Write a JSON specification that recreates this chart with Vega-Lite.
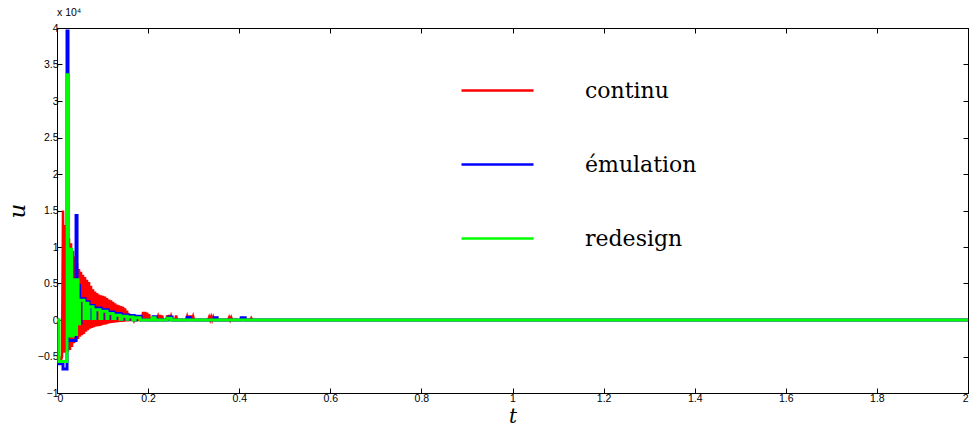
{
"$schema": "https://vega.github.io/schema/vega-lite/v6.json",
"width": 911, "height": 365,
"autosize": {"type": "none"},
"padding": {"left": 57, "top": 28, "right": 1, "bottom": 38},
"background": "white",
"title": {"text": "x 10⁴", "anchor": "start", "frame": "group", "fontSize": 10.5, "font": "Liberation Sans", "fontWeight": "normal", "offset": 5, "color": "#000"},
"datasets": {
"continu": [
{"t":0,"u":-3000},{"t":0.0044,"u":-5000},{"t":0.0088,"u":-5500},{"t":0.0110,"u":-5000},{"t":0.0132,"u":15000},{"t":0.0154,"u":-4500},{"t":0.0176,"u":13000},{"t":0.0198,"u":-4400},{"t":0.0220,"u":12200},{"t":0.0242,"u":-4300},{"t":0.0264,"u":11200},{"t":0.0286,"u":-4100},{"t":0.0308,"u":10500},{"t":0.0330,"u":-3700},{"t":0.0352,"u":9500},{"t":0.0374,"u":-3200},{"t":0.0396,"u":8700},{"t":0.0418,"u":-2800},{"t":0.0440,"u":7800},{"t":0.0462,"u":-2600},{"t":0.0484,"u":7000},{"t":0.0505,"u":-2300},{"t":0.0527,"u":6600},{"t":0.0549,"u":-2100},{"t":0.0571,"u":6200},{"t":0.0593,"u":-1900},{"t":0.0615,"u":5900},{"t":0.0637,"u":-1600},{"t":0.0659,"u":5500},{"t":0.0681,"u":-1400},{"t":0.0703,"u":5200},{"t":0.0725,"u":-1200},{"t":0.0747,"u":4700},{"t":0.0769,"u":-1100},{"t":0.0791,"u":4200},{"t":0.0813,"u":-1000},{"t":0.0835,"u":3900},{"t":0.0857,"u":-900},{"t":0.0879,"u":3700},{"t":0.0901,"u":-850},{"t":0.0923,"u":3500},{"t":0.0945,"u":-800},{"t":0.0967,"u":3400},{"t":0.0989,"u":-700},{"t":0.1011,"u":3300},{"t":0.1033,"u":-650},{"t":0.1055,"u":3200},{"t":0.1077,"u":-600},{"t":0.1099,"u":3000},{"t":0.1121,"u":-500},{"t":0.1143,"u":2800},{"t":0.1165,"u":-450},{"t":0.1187,"u":2700},{"t":0.1209,"u":-400},{"t":0.1231,"u":2500},{"t":0.1253,"u":-370},{"t":0.1275,"u":2300},{"t":0.1297,"u":-340},{"t":0.1319,"u":2100},{"t":0.1341,"u":-300},{"t":0.1363,"u":2000},{"t":0.1385,"u":-280},{"t":0.1407,"u":1900},{"t":0.1429,"u":-250},{"t":0.1451,"u":1800},{"t":0.1473,"u":-220},{"t":0.1495,"u":1600},{"t":0.1516,"u":-200},{"t":0.1538,"u":1300},{"t":0.1560,"u":-170},{"t":0.1582,"u":900},{"t":0.1604,"u":-140},{"t":0.1626,"u":600},{"t":0.1648,"u":-120},{"t":0.1670,"u":300},{"t":0.1692,"u":-100},{"t":0.1714,"u":200},{"t":0.1736,"u":0},
{"t":0.1824,"u":0},{"t":0.1846,"u":600},{"t":0.1868,"u":0},{"t":0.1890,"u":1100},{"t":0.1912,"u":0},{"t":0.1934,"u":1100},{"t":0.1956,"u":0},{"t":0.1978,"u":1000},{"t":0.2000,"u":0},{"t":0.2022,"u":800},{"t":0.2044,"u":0},
{"t":0.2198,"u":0},{"t":0.2220,"u":500},{"t":0.2242,"u":0},{"t":0.2264,"u":700},{"t":0.2286,"u":0},{"t":0.2308,"u":600},{"t":0.2330,"u":0},
{"t":0.2396,"u":0},{"t":0.2418,"u":600},{"t":0.2440,"u":0},{"t":0.2462,"u":700},{"t":0.2484,"u":0},{"t":0.2505,"u":500},{"t":0.2527,"u":0},
{"t":0.2593,"u":0},{"t":0.2615,"u":600},{"t":0.2637,"u":0},
{"t":0.2835,"u":0},{"t":0.2857,"u":500},{"t":0.2879,"u":0},{"t":0.2901,"u":600},{"t":0.2923,"u":0},{"t":0.2945,"u":600},{"t":0.2967,"u":0},{"t":0.2989,"u":500},{"t":0.3011,"u":0},
{"t":0.3319,"u":0},{"t":0.3341,"u":400},{"t":0.3363,"u":0},{"t":0.3385,"u":450},{"t":0.3407,"u":0},{"t":0.3429,"u":400},{"t":0.3451,"u":0},
{"t":0.3758,"u":0},{"t":0.3780,"u":350},{"t":0.3802,"u":0},{"t":0.3824,"u":350},{"t":0.3846,"u":0},
{"t":0.4242,"u":0},{"t":0.4264,"u":250},{"t":0.4286,"u":0},{"t":2,"u":0}
],
"emulation": [
{"t":0,"u":0},{"t":0.0022,"u":0},{"t":0.0022,"u":-6000},{"t":0.0132,"u":-6000},{"t":0.0132,"u":-6700},{"t":0.0220,"u":-6700},{"t":0.0220,"u":39600},{"t":0.0242,"u":39600},{"t":0.0242,"u":-2800},{"t":0.0418,"u":-2800},{"t":0.0418,"u":14300},{"t":0.0440,"u":14300},{"t":0.0440,"u":4700},{"t":0.0495,"u":4700},{"t":0.0495,"u":-400},{"t":0.0527,"u":-400},
{"t":0.0527,"u":2900},{"t":0.0615,"u":2900},{"t":0.0615,"u":200},{"t":0.0637,"u":200},{"t":0.0637,"u":2500},{"t":0.0703,"u":2500},{"t":0.0703,"u":200},{"t":0.0725,"u":200},{"t":0.0725,"u":2000},{"t":0.0813,"u":2000},{"t":0.0813,"u":200},{"t":0.0857,"u":200},{"t":0.0857,"u":1650},{"t":0.0967,"u":1650},{"t":0.0967,"u":200},{"t":0.1011,"u":200},{"t":0.1011,"u":1400},{"t":0.1121,"u":1400},{"t":0.1121,"u":200},{"t":0.1143,"u":200},{"t":0.1143,"u":1100},{"t":0.1253,"u":1100},{"t":0.1253,"u":200},{"t":0.1297,"u":200},{"t":0.1297,"u":900},{"t":0.1407,"u":900},{"t":0.1407,"u":100},{"t":0.1451,"u":100},{"t":0.1451,"u":700},{"t":0.1560,"u":700},{"t":0.1560,"u":100},{"t":0.1582,"u":100},{"t":0.1582,"u":600},{"t":0.1692,"u":600},{"t":0.1692,"u":0},{"t":0.1736,"u":0},{"t":0.1736,"u":500},{"t":0.1846,"u":500},{"t":0.1846,"u":0},
{"t":0.2110,"u":0},{"t":0.2110,"u":450},{"t":0.2176,"u":450},{"t":0.2176,"u":0},{"t":0.2440,"u":0},{"t":0.2440,"u":400},{"t":0.2527,"u":400},{"t":0.2527,"u":0},{"t":0.2857,"u":0},{"t":0.2857,"u":350},{"t":0.2923,"u":350},{"t":0.2923,"u":0},{"t":0.3451,"u":0},{"t":0.3451,"u":300},{"t":0.3516,"u":300},{"t":0.3516,"u":0},{"t":0.4044,"u":0},{"t":0.4044,"u":300},{"t":0.4132,"u":300},{"t":0.4132,"u":0},{"t":2,"u":0}
],
"redesign": [
{"t":0,"u":0},{"t":0.0044,"u":0},{"t":0.0044,"u":-5700},{"t":0.0220,"u":-5700},{"t":0.0220,"u":33600},{"t":0.0242,"u":33600},{"t":0.0242,"u":-2200},{"t":0.0275,"u":-2200},{"t":0.0275,"u":9700},{"t":0.0319,"u":9700},{"t":0.0319,"u":-2200},{"t":0.0352,"u":-2200},{"t":0.0352,"u":5500},{"t":0.0396,"u":5500},{"t":0.0396,"u":-2000},{"t":0.0429,"u":-2000},{"t":0.0429,"u":5500},{"t":0.0462,"u":5500},{"t":0.0462,"u":-500},{"t":0.0495,"u":-500},
{"t":0.0495,"u":2700},{"t":0.0593,"u":2700},{"t":0.0593,"u":200},{"t":0.0615,"u":200},{"t":0.0615,"u":2300},{"t":0.0681,"u":2300},{"t":0.0681,"u":200},{"t":0.0703,"u":200},{"t":0.0703,"u":1800},{"t":0.0791,"u":1800},{"t":0.0791,"u":200},{"t":0.0835,"u":200},{"t":0.0835,"u":1400},{"t":0.0945,"u":1400},{"t":0.0945,"u":200},{"t":0.0989,"u":200},{"t":0.0989,"u":1200},{"t":0.1099,"u":1200},{"t":0.1099,"u":200},{"t":0.1121,"u":200},{"t":0.1121,"u":900},{"t":0.1231,"u":900},{"t":0.1231,"u":200},{"t":0.1275,"u":200},{"t":0.1275,"u":650},{"t":0.1385,"u":650},{"t":0.1385,"u":100},{"t":0.1429,"u":100},{"t":0.1429,"u":500},{"t":0.1538,"u":500},{"t":0.1538,"u":100},{"t":0.1560,"u":100},{"t":0.1560,"u":400},{"t":0.1670,"u":400},{"t":0.1670,"u":0},{"t":0.1714,"u":0},{"t":0.1714,"u":300},{"t":0.1824,"u":300},{"t":0.1824,"u":0},
{"t":0.2088,"u":0},{"t":0.2088,"u":300},{"t":0.2154,"u":300},{"t":0.2154,"u":0},{"t":0.2418,"u":0},{"t":0.2418,"u":250},{"t":0.2505,"u":250},{"t":0.2505,"u":0},{"t":2,"u":0}
]
},
"layer": [
{
"data": {"name": "continu"},
"transform": [{"calculate": "'continu'", "as": "s"}],
"mark": {"type": "line", "strokeWidth": 2.5, "clip": true},
"encoding": {
"x": {"field": "t", "type": "quantitative", "scale": {"domain": [0, 2], "nice": false, "zero": false},
"axis": {"orient": "bottom", "title": "t", "values": [0,0.2,0.4,0.6,0.8,1,1.2,1.4,1.6,1.8,2], "format": "~g", "labelPadding": 5, "titlePadding": 3, "titleFontSize": 20}},
"y": {"field": "u", "type": "quantitative", "scale": {"domain": [-10000, 40000], "nice": false, "zero": false},
"axis": {"orient": "left", "title": "u", "values": [-10000,-5000,0,5000,10000,15000,20000,25000,30000,35000,40000], "labelExpr": "format(datum.value/10000,'~g')", "labelPadding": 4, "titlePadding": 8, "titleFontSize": 23}},
"color": {"field": "s", "type": "nominal", "scale": {"domain": ["continu", "émulation", "redesign"], "range": ["#ff0000", "#0000ff", "#00ff00"]},
"legend": {"title": null, "orient": "none", "legendX": 403, "legendY": 25, "labelFont": "DejaVu Serif", "labelFontSize": 22, "rowPadding": 25}},
"order": {"value": null}
}
},
{
"data": {"name": "emulation"},
"transform": [{"calculate": "'émulation'", "as": "s"}],
"mark": {"type": "line", "strokeWidth": 3, "clip": true},
"encoding": {
"x": {"field": "t", "type": "quantitative", "axis": null},
"y": {"field": "u", "type": "quantitative", "axis": null},
"color": {"field": "s", "type": "nominal", "legend": {"title": null, "orient": "none", "legendX": 403, "legendY": 25, "labelFont": "DejaVu Serif", "labelFontSize": 22, "rowPadding": 25}},
"order": {"value": null}
}
},
{
"data": {"name": "redesign"},
"transform": [{"calculate": "'redesign'", "as": "s"}],
"mark": {"type": "line", "strokeWidth": 3, "clip": true},
"encoding": {
"x": {"field": "t", "type": "quantitative", "axis": null},
"y": {"field": "u", "type": "quantitative", "axis": null},
"color": {"field": "s", "type": "nominal", "legend": {"title": null, "orient": "none", "legendX": 403, "legendY": 25, "labelFont": "DejaVu Serif", "labelFontSize": 22, "rowPadding": 25}},
"order": {"value": null}
}
},
{
"data": {"name": "redesign"},
"mark": {"type": "line", "opacity": 0},
"encoding": {
"x": {"field": "t", "type": "quantitative", "axis": {"orient": "top", "labels": false, "title": null, "domain": false, "values": [0,0.2,0.4,0.6,0.8,1,1.2,1.4,1.6,1.8,2]}},
"y": {"field": "u", "type": "quantitative", "axis": {"orient": "right", "labels": false, "title": null, "domain": false, "values": [-10000,-5000,0,5000,10000,15000,20000,25000,30000,35000,40000]}}
}
}
],
"resolve": {"axis": {"x": "independent", "y": "independent"}},
"config": {
"view": {"stroke": "#000", "strokeWidth": 1},
"axis": {"grid": false, "tickSize": -5, "tickColor": "#000", "domainColor": "#000", "labelColor": "#000", "labelFont": "Liberation Sans", "labelFontSize": 10.5, "titleFont": "DejaVu Serif", "titleFontStyle": "italic", "titleFontWeight": "normal", "titleColor": "#000"},
"legend": {"orient": "none", "legendX": 403, "legendY": 25, "symbolType": "stroke", "symbolSize": 5184, "symbolStrokeWidth": 2.5, "labelFont": "DejaVu Serif", "labelFontSize": 22, "labelColor": "#000", "labelOffset": 50, "rowPadding": 25, "padding": 0}
}
}
